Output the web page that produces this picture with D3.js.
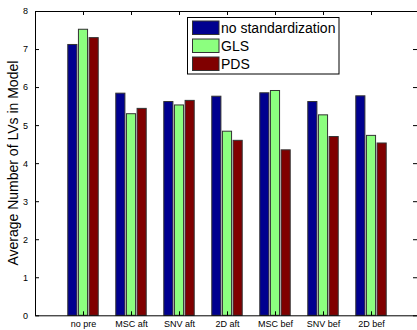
<!DOCTYPE html>
<html><head><meta charset="utf-8">
<script src="https://cdn.jsdelivr.net/npm/d3@7"></script>
<style>body{margin:0;background:#fff}svg{display:block}text{font-family:"Liberation Sans",Arial,Helvetica,sans-serif}</style>
</head><body><svg id="c" width="417" height="330"></svg>
<script>
const categories = ["no pre","MSC aft","SNV aft","2D aft","MSC bef","SNV bef","2D bef"];
const seriesNames = ["no standardization","GLS","PDS"];
const noStd = [7.12, 5.84, 5.62, 5.76, 5.85, 5.62, 5.77];
const gls   = [7.52, 5.30, 5.53, 4.84, 5.91, 5.27, 4.73];
const pds   = [7.30, 5.44, 5.65, 4.60, 4.35, 4.70, 4.53];
const yTicks = [0,1,2,3,4,5,6,7,8];
const colors = ["#00008f","#8cff7f","#800000"];

const series = [noStd, gls, pds];
const svg = d3.select("#c");
const L = 35, R = 419, T = 11, B = 315.3;
const x = d3.scaleLinear().domain([0, 8]).range([L, R]);
const y = d3.scaleLinear().domain([0, 8]).range([B, T]);
const offsets = [-0.222, 0, 0.222];
const bw = 0.19;

// bars
series.forEach((vals, s) => {
  svg.append("g").selectAll("rect").data(vals).join("rect")
    .attr("x", (d, i) => x(i + 1 + offsets[s] - bw / 2))
    .attr("width", x(bw) - x(0))
    .attr("y", d => y(d))
    .attr("height", d => y(0) - y(d))
    .attr("fill", colors[s])
    .attr("stroke", "#333")
    .attr("stroke-width", 1);
});

// axes
const ax = svg.append("g");
const yl = d3.axisLeft(y).tickValues(yTicks).tickSizeInner(-4).tickSizeOuter(0).tickPadding(7);
ax.append("g").attr("transform", `translate(${L},0)`).call(yl)
  .call(g => g.selectAll("text").attr("font-size", 9).attr("fill", "#000").attr("font-family", '"Liberation Sans",Arial,sans-serif'))
  .call(g => g.selectAll("line,path").attr("stroke", "#000"));
const yr = d3.axisRight(y).tickValues(yTicks).tickSizeInner(-4).tickSizeOuter(0).tickFormat("");
ax.append("g").attr("transform", `translate(${R - 2},0)`).call(yr)
  .call(g => g.select("path").remove())
  .call(g => g.selectAll("line").attr("stroke", "#000"));
const xb = d3.axisBottom(x).tickValues(d3.range(1, 8)).tickSizeInner(-4).tickSizeOuter(0).tickPadding(5)
  .tickFormat(d => categories[d - 1]);
ax.append("g").attr("transform", `translate(0,${B})`).call(xb)
  .call(g => g.selectAll("text").attr("font-size", 9).attr("fill", "#000").attr("font-family", '"Liberation Sans",Arial,sans-serif'))
  .call(g => g.selectAll("line,path").attr("stroke", "#000"));
const xt = d3.axisTop(x).tickValues(d3.range(1, 8)).tickSizeInner(-4).tickSizeOuter(0).tickFormat("");
ax.append("g").attr("transform", `translate(0,${T})`).call(xt)
  .call(g => g.selectAll("line,path").attr("stroke", "#000"));

// y label
svg.append("text")
  .attr("transform", `translate(18,${(T + B) / 2}) rotate(-90)`)
  .attr("text-anchor", "middle").attr("font-size", 14).attr("fill", "#000")
  .text("Average Number of LVs in Model");

// legend
const lg = svg.append("g");
lg.append("rect").attr("x", 187.5).attr("y", 17.5).attr("width", 151.5).attr("height", 56.5)
  .attr("fill", "#fff").attr("stroke", "#000").attr("stroke-width", 1);
seriesNames.forEach((n, i) => {
  const yy = 21 + i * 18;
  lg.append("rect").attr("x", 192.5).attr("y", yy).attr("width", 26.5).attr("height", 13.5)
    .attr("fill", colors[i]).attr("stroke", "#333");
  lg.append("text").attr("x", 221).attr("y", yy + 12).attr("font-size", 14).attr("fill", "#000").text(n);
});
</script></body></html>
